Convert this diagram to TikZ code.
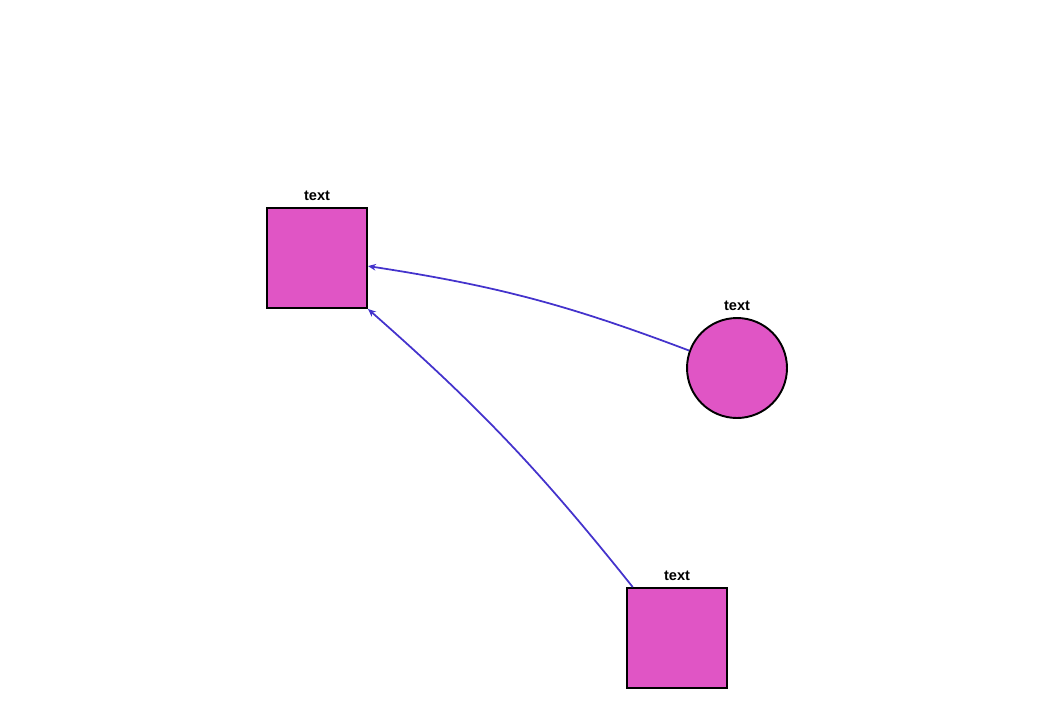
\documentclass[tikz,border=0pt]{standalone}
\usepackage{fontspec}
\setmainfont{Liberation Sans}
\usetikzlibrary{arrows.meta,shapes,positioning}
\definecolor{pinkfill}{HTML}{E055C5}
\definecolor{linkblue}{HTML}{4433CC}
\tikzset{
  box/.style={draw,line width=1.1pt,fill=pinkfill,minimum size=2cm,inner sep=0pt},
  disc/.style={draw,circle,line width=1.1pt,fill=pinkfill,minimum size=2cm,inner sep=0pt},
  tag/.style={label={[label distance=3.5pt,inner sep=0pt,font=\fontsize{8.3}{10}\selectfont\bfseries]above:text}},
  link/.style={draw=linkblue,line width=1pt,-{Stealth[length=4.5pt,width=3.8pt]}}
}
\begin{document}
\begin{tikzpicture}[x=0.02cm,y=-0.02cm]
\useasboundingbox (0,0) rectangle (1054,720);
\node[box,tag] (left) at (317,258) {};
\node[disc,tag] (round) at (737,368) {};
\node[box,tag] (low) at (677,638) {};
\draw[link] (round.160) to[bend right=6] (left.-9);
\draw[link] (low.131) to[bend right=5] (left.south east);
\end{tikzpicture}
\end{document}
